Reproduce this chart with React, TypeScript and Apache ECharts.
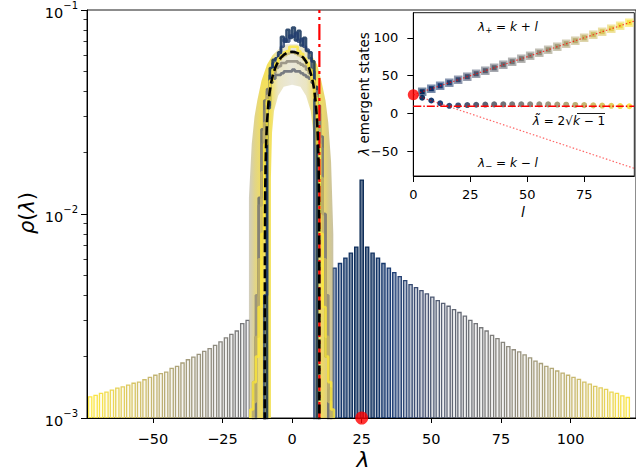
import { useEffect, useRef } from "react";
import * as echarts from "echarts";

// ---------------- data ----------------
const K_DEGREE = 25;
const LAMBDA_TILDE = 9.8; // 2*sqrt(k-1)

// outlier bins (right of the bulk): position and density
const RIGHT_BAR_X = [15.25, 17.2, 19.15, 21.1, 23.05, 25, 26.95, 28.9, 30.85, 32.8, 34.75, 36.7, 38.65, 40.6, 42.55, 44.5, 46.45, 48.4, 50.35, 52.3, 54.25, 56.2, 58.15, 60.1, 62.05, 64.0, 65.95, 67.9, 69.85, 71.8, 73.75, 75.7, 77.65, 79.6, 81.55, 83.5, 85.45, 87.4, 89.35, 91.3, 93.25, 95.2, 97.15, 99.1, 101.05, 103.0, 104.95, 106.9, 108.85, 110.8, 112.75, 114.7, 116.65, 118.6, 120.55];
const RIGHT_BAR_Y = [5.43e-3, 5.72e-3, 6.08e-3, 6.43e-3, 6.88e-3, 14.65e-3, 6.88e-3, 6.43e-3, 6.08e-3, 5.72e-3, 5.43e-3, 5.16e-3, 4.93e-3, 4.71e-3, 4.51e-3, 4.36e-3, 4.21e-3, 4.06e-3, 3.91e-3, 3.76e-3, 3.65e-3, 3.53e-3, 3.40e-3, 3.29e-3, 3.16e-3, 3.01e-3, 2.90e-3, 2.77e-3, 2.67e-3, 2.54e-3, 2.45e-3, 2.35e-3, 2.24e-3, 2.16e-3, 2.11e-3, 2.04e-3, 1.97e-3, 1.90e-3, 1.85e-3, 1.79e-3, 1.75e-3, 1.70e-3, 1.66e-3, 1.62e-3, 1.58e-3, 1.545e-3, 1.50e-3, 1.465e-3, 1.43e-3, 1.405e-3, 1.38e-3, 1.34e-3, 1.32e-3, 1.285e-3, 1.26e-3];
// outlier bins (left of the bulk)
const LEFT_BAR_X = [-72.5, -70.55, -68.6, -66.65, -64.7, -62.75, -60.8, -58.85, -56.9, -54.95, -53.0, -51.05, -49.1, -47.15, -45.2, -43.25, -41.3, -39.35, -37.4, -35.45, -33.5, -31.55, -29.6, -27.65, -25.7, -23.75, -21.8, -19.85, -17.9, -15.95];
const LEFT_BAR_Y = [1.27e-3, 1.29e-3, 1.32e-3, 1.34e-3, 1.37e-3, 1.40e-3, 1.42e-3, 1.45e-3, 1.48e-3, 1.50e-3, 1.54e-3, 1.58e-3, 1.62e-3, 1.65e-3, 1.68e-3, 1.75e-3, 1.79e-3, 1.86e-3, 1.93e-3, 1.99e-3, 2.05e-3, 2.12e-3, 2.19e-3, 2.27e-3, 2.36e-3, 2.47e-3, 2.57e-3, 2.67e-3, 2.90e-3, 3.01e-3];

// envelope of the many overlapping bulk histograms (outer edge, then inner edge)
const BAND_OUTER_X = [-15.5, -15.5, -14.5, -13.5, -12.5, -11, -9, -7, -4.5, -2, 2, 4.5, 7, 9, 10.5, 12, 13, 14, 14.8, 14.8];
const BAND_OUTER_Y = [1e-3, 1.2e-2, 2.2e-2, 3.0e-2, 3.6e-2, 4.5e-2, 5.4e-2, 6.0e-2, 6.5e-2, 6.8e-2, 6.8e-2, 6.5e-2, 6.0e-2, 5.4e-2, 4.5e-2, 3.6e-2, 2.8e-2, 1.8e-2, 8e-3, 1e-3];
const BAND_INNER_X = [8.4, 8.4, 7.6, 6.7, 5, 3, 0, -3, -5, -6.5, -7.2, -7.6, -7.6];
const BAND_INNER_Y = [1e-3, 1.5e-2, 2.5e-2, 3.2e-2, 3.8e-2, 4.2e-2, 4.3e-2, 4.2e-2, 3.8e-2, 3.2e-2, 2.5e-2, 1.5e-2, 1e-3];

// bulk histograms (step outlines), bins between consecutive edges
const BULK_EDGES = [-15, -14, -13, -12, -11, -10, -9, -8, -7, -6, -5, -4, -3, -2, -1, 0, 1, 2, 3, 4, 5, 6, 7, 8, 9, 10, 11, 12, 13, 14, 15];
const BULK_L_FRACTION = [0, 0.15, 0.35, 0.55, 0.8, 1.0];
const BULK_A = [0, 0, 0, 0, 0, 0, 0.034, 0.052, 0.057, 0.058, 0.062, 0.074, 0.070, 0.080, 0.073, 0.082, 0.071, 0.079, 0.067, 0.073, 0.063, 0.062, 0.056, 0.042, 0, 0, 0, 0, 0, 0];
const BULK_B = [0, 0, 0, 0, 0, 0.004, 0.033, 0.048, 0.055, 0.058, 0.060, 0.066, 0.072, 0.070, 0.075, 0.074, 0.077, 0.070, 0.072, 0.066, 0.064, 0.058, 0.050, 0, 0, 0, 0, 0, 0, 0];
const BULK_C = [0, 0, 0.0025, 0.012, 0.026, 0.036, 0.041, 0.044, 0.046, 0.048, 0.048, 0.049, 0.050, 0.050, 0.050, 0.051, 0.050, 0.050, 0.049, 0.048, 0.047, 0.046, 0.044, 0.040, 0.034, 0.024, 0.010, 0.002, 0, 0];
const BULK_D = [0, 0.0015, 0.004, 0.011, 0.022, 0.032, 0.040, 0.045, 0.049, 0.052, 0.053, 0.055, 0.055, 0.056, 0.056, 0.056, 0.056, 0.055, 0.054, 0.053, 0.051, 0.049, 0.045, 0.040, 0.031, 0.021, 0.010, 0.004, 0.0014, 0];
const BULK_E = [0, 0.0012, 0.0025, 0.006, 0.016, 0.028, 0.038, 0.045, 0.050, 0.054, 0.057, 0.059, 0.060, 0.061, 0.062, 0.062, 0.061, 0.060, 0.059, 0.057, 0.054, 0.050, 0.045, 0.038, 0.027, 0.015, 0.006, 0.0025, 0.0012, 0];
const BULK_F = [0.0011, 0.0015, 0.002, 0.0035, 0.008, 0.022, 0.036, 0.045, 0.051, 0.055, 0.058, 0.060, 0.062, 0.063, 0.066, 0.066, 0.066, 0.063, 0.061, 0.058, 0.055, 0.051, 0.045, 0.037, 0.022, 0.008, 0.0035, 0.002, 0.0015, 0.0011];
const BULK_HISTS = [BULK_A, BULK_B, BULK_C, BULK_D, BULK_E, BULK_F];

// Kesten-McKay density (dashed curve)
const KM_X = [-9.799, -9.79, -9.75, -9.65, -9.5, -9.3, -9, -8.5, -8, -7.5, -7, -6, -5, -4, -3, -2, -1, 0, 1, 2, 3, 4, 5, 6, 7, 7.5, 8, 8.5, 9, 9.3, 9.5, 9.65, 9.75, 9.79, 9.799];
const KM_Y = [0.0004, 0.00297, 0.00727, 0.01269, 0.01784, 0.02279, 0.02833, 0.03508, 0.04012, 0.04411, 0.04736, 0.05233, 0.05588, 0.05844, 0.06025, 0.06146, 0.06215, 0.06238, 0.06215, 0.06146, 0.06025, 0.05844, 0.05588, 0.05233, 0.04736, 0.04411, 0.04012, 0.03508, 0.02833, 0.02279, 0.01784, 0.01269, 0.00727, 0.00297, 0.0004];

// inset: emergent eigenvalues vs l
const INSET_L = [3.9, 7.9, 11.8, 15.8, 19.7, 23.7, 27.6, 31.6, 35.5, 39.5, 43.4, 47.4, 51.3, 55.3, 59.2, 63.2, 67.1, 71.1, 75.0, 79.0, 82.9, 86.9, 90.8, 94.8];
const LAMBDA_PLUS = [28.9, 32.9, 36.8, 40.8, 44.7, 48.7, 52.6, 56.6, 60.5, 64.5, 68.4, 72.4, 76.3, 80.3, 84.2, 88.2, 92.1, 96.1, 100.0, 104.0, 107.9, 111.9, 115.8, 119.8];
const LAMBDA_LOW = [21.0, 17.4, 13.8, 10.4, 10.9, 11.4, 11.8, 12.1, 12.3, 12.4, 12.5, 12.5, 12.5, 12.4, 12.3, 12.1, 11.9, 11.6, 11.3, 11.0, 10.7, 10.4, 10.1, 9.8];
const THEORY_L = [0, 97];
const THEORY_PLUS = [25, 122];
const THEORY_MINUS = [25, -72];
const L_MAX = 97;

// ticks
const MAIN_X_TICKS = [-50, -25, 0, 25, 50, 75, 100];
const MAIN_Y_TICKS = [1e-3, 1e-2, 1e-1];
const MAIN_Y_MINOR = [2e-3, 3e-3, 4e-3, 5e-3, 6e-3, 7e-3, 8e-3, 9e-3, 2e-2, 3e-2, 4e-2, 5e-2, 6e-2, 7e-2, 8e-2, 9e-2];
const INSET_X_TICKS = [0, 25, 50, 75];
const INSET_Y_TICKS = [-50, 0, 50, 100];

// ---------------- styling helpers ----------------
const FONT = "DejaVu Sans";
const CIVIDIS = ["#00224e", "#123570", "#3b496c", "#575d6d", "#707173", "#8a8678", "#a59c74", "#c3b369", "#e1cc55", "#fee838"];
function hexRgb(h: string) {
  return [parseInt(h.slice(1, 3), 16), parseInt(h.slice(3, 5), 16), parseInt(h.slice(5, 7), 16)];
}
function cividis(t: number, a = 1) {
  const tt = Math.max(0, Math.min(1, t));
  const p = tt * 9;
  const i = Math.min(8, Math.floor(p));
  const f = p - i;
  const c0 = hexRgb(CIVIDIS[i]);
  const c1 = hexRgb(CIVIDIS[i + 1]);
  const c = c0.map((v, k) => Math.round(v + (c1[k] - v) * f));
  return `rgba(${c[0]},${c[1]},${c[2]},${a})`;
}
const minus = (v: number) => (v < 0 ? "\u2212" + Math.abs(v) : String(v));
const BAR_HALF = 0.58;

function stepSeries(vals: number[], t: number) {
  const pts: number[][] = [[BULK_EDGES[0], 1e-4]];
  vals.forEach((v, i) => {
    const y = v > 0 ? v : 1e-4;
    pts.push([BULK_EDGES[i], y]);
    pts.push([BULK_EDGES[i + 1], y]);
  });
  pts.push([BULK_EDGES[BULK_EDGES.length - 1], 1e-4]);
  return {
    type: "line",
    xAxisIndex: 0,
    yAxisIndex: 0,
    data: pts,
    symbol: "none",
    clip: true,
    silent: true,
    lineStyle: { color: cividis(t), width: 2.6, opacity: 0.8 },
    z: 2,
  };
}

function buildOption(): any {
  const barData = [
    ...RIGHT_BAR_X.map((x, i) => [x, RIGHT_BAR_Y[i], Math.abs(x - K_DEGREE) / L_MAX]),
    ...LEFT_BAR_X.map((x, i) => [x, LEFT_BAR_Y[i], (K_DEGREE - x) / L_MAX]),
  ];

  const bandPts = [
    ...BAND_OUTER_X.map((x, i) => [x, BAND_OUTER_Y[i]]),
    ...BAND_INNER_X.map((x, i) => [x, BAND_INNER_Y[i]]),
  ];

  const blueSeries = BULK_HISTS.slice(0, 2).map((v, h) => stepSeries(v, BULK_L_FRACTION[h]));
  const otherSeries = BULK_HISTS.slice(2).map((v, h) => stepSeries(v, BULK_L_FRACTION[h + 2]));

  const txt = (x: number, y: number, text: string, rich: any, extra: any = {}) => ({
    type: "text",
    x,
    y,
    z: 20,
    style: { text, rich, align: "center", verticalAlign: "middle", textAlign: "center", textVerticalAlign: "middle", fontFamily: FONT, fill: "#000" },
    ...extra,
  });
  const eqRich = {
    i: { fontFamily: FONT, fontSize: 12, fontStyle: "italic", color: "#000", lineHeight: 14 },
    n: { fontFamily: FONT, fontSize: 12, color: "#000", lineHeight: 14 },
    s: { fontFamily: FONT, fontSize: 8.5, color: "#000", lineHeight: 8, verticalAlign: "bottom" },
  };

  return {
    animation: false,
    backgroundColor: "#fff",
    grid: [
      { left: 87, top: 8, width: 553, height: 410, show: true, borderColor: "#1a1a1a", borderWidth: 1, backgroundColor: "transparent", z: 0 },
      { left: 413.3, top: 12.7, width: 221, height: 163.3, show: true, borderColor: "#1a1a1a", borderWidth: 1, backgroundColor: "#fff", z: 5 },
    ],
    xAxis: [
      {
        gridIndex: 0, type: "value", min: -73.65, max: 123.5, z: 6,
        axisLine: { show: true, onZero: false, lineStyle: { color: "#000", width: 1 } },
        axisTick: { show: true, length: 5, customValues: MAIN_X_TICKS, lineStyle: { color: "#000" } },
        axisLabel: { customValues: MAIN_X_TICKS, formatter: (v: number) => minus(v), fontFamily: FONT, fontSize: 14.5, color: "#000", margin: 13 },
        splitLine: { show: false },
      },
      {
        gridIndex: 1, type: "value", min: 0, max: L_MAX, z: 8,
        axisLine: { show: true, onZero: false, lineStyle: { color: "#000", width: 1 } },
        axisTick: { show: true, length: 6, customValues: INSET_X_TICKS, lineStyle: { color: "#000" } },
        axisLabel: { customValues: INSET_X_TICKS, formatter: (v: number) => minus(v), fontFamily: FONT, fontSize: 13, color: "#000", margin: 12 },
        splitLine: { show: false },
      },
    ],
    yAxis: [
      {
        gridIndex: 0, type: "log", logBase: 10, min: 1e-3, max: 1e-1, position: "left", z: 6,
        axisLine: { show: true, onZero: false, lineStyle: { color: "#000", width: 1 } },
        axisTick: { show: true, length: 6, customValues: MAIN_Y_TICKS, lineStyle: { color: "#000" } },
        axisLabel: {
          customValues: MAIN_Y_TICKS,
          formatter: (v: number) => `{b|10}{s|\u2212${Math.round(-Math.log10(v))}}`,
          margin: 9,
          rich: {
            b: { fontFamily: FONT, fontSize: 14.5, color: "#000", lineHeight: 20, verticalAlign: "bottom" },
            s: { fontFamily: FONT, fontSize: 10, color: "#000", lineHeight: 10, verticalAlign: "top" },
          },
        },
        splitLine: { show: false },
      },
      {
        gridIndex: 0, type: "log", logBase: 10, min: 1e-3, max: 1e-1, position: "left", z: 6,
        axisLine: { show: false, onZero: false },
        axisTick: { show: true, length: 3.5, customValues: MAIN_Y_MINOR, lineStyle: { color: "#000", width: 0.8 } },
        axisLabel: { show: false },
        splitLine: { show: false },
      },
      {
        gridIndex: 1, type: "value", min: -82, max: 133, position: "left", z: 8,
        axisLine: { show: true, onZero: false, lineStyle: { color: "#000", width: 1 } },
        axisTick: { show: true, length: 6, customValues: INSET_Y_TICKS, lineStyle: { color: "#000" } },
        axisLabel: { customValues: INSET_Y_TICKS, formatter: (v: number) => minus(v), fontFamily: FONT, fontSize: 13, color: "#000", margin: 15 },
        splitLine: { show: false },
      },
    ],
    series: [
      {
        type: "custom",
        xAxisIndex: 0,
        yAxisIndex: 0,
        data: barData,
        clip: true,
        silent: true,
        z: 2,
        encode: { x: 0, y: 1 },
        renderItem: (_p: any, api: any) => {
          const x = api.value(0);
          const y = api.value(1);
          const t = api.value(2);
          const a = api.coord([x - BAR_HALF, y]);
          const b = api.coord([x + BAR_HALF, 1e-3]);
          const fa = Math.max(0.1, Math.min(0.6, 0.65 - 1.8 * t));
          return {
            type: "rect",
            shape: { x: a[0], y: a[1], width: b[0] - a[0], height: b[1] - a[1] },
            style: { fill: cividis(t, fa), stroke: cividis(t, 0.95), lineWidth: 1.3 },
          };
        },
      },
      ...blueSeries,
      {
        type: "custom",
        xAxisIndex: 0,
        yAxisIndex: 0,
        data: [[0, 0.01]],
        silent: true,
        z: 2,
        encode: { x: 0, y: 1 },
        renderItem: (_p: any, api: any) => {
          const points = bandPts.map((p) => api.coord(p));
          return {
            type: "polygon",
            shape: { points },
            style: {
              fill: new echarts.graphic.LinearGradient(0, 0, 1, 0, [
                { offset: 0, color: "rgba(185,180,158,0.65)" },
                { offset: 0.07, color: "rgba(218,203,112,0.82)" },
                { offset: 0.15, color: "rgba(240,218,72,0.88)" },
                { offset: 0.26, color: "rgba(242,222,72,0.88)" },
                { offset: 0.35, color: "rgba(218,208,145,0.55)" },
                { offset: 0.51, color: "rgba(208,203,170,0.45)" },
                { offset: 0.68, color: "rgba(218,208,145,0.55)" },
                { offset: 0.78, color: "rgba(242,222,72,0.88)" },
                { offset: 0.88, color: "rgba(232,210,80,0.85)" },
                { offset: 1, color: "rgba(180,170,128,0.72)" },
              ]),
            },
          };
        },
      },
      ...otherSeries,
      {
        type: "line", xAxisIndex: 0, yAxisIndex: 0, symbol: "none", silent: true, z: 3,
        data: [[LAMBDA_TILDE, 1e-3], [LAMBDA_TILDE, 1e-1]],
        lineStyle: { color: "#ff0000", width: 2.2, type: [16, 4, 3, 4] },
      },
      {
        type: "line", xAxisIndex: 0, yAxisIndex: 0, symbol: "none", silent: true, z: 4, clip: true,
        data: KM_X.map((x, i) => [x, KM_Y[i]]),
        lineStyle: { color: "#000", width: 2.6, type: [9, 4] },
      },
      {
        type: "scatter", xAxisIndex: 0, yAxisIndex: 0, clip: false, silent: true, z: 7,
        data: [[K_DEGREE, 1e-3]], symbol: "circle", symbolSize: 13,
        itemStyle: { color: "#ff0000" },
      },
      // inset
      {
        type: "scatter", xAxisIndex: 1, yAxisIndex: 2, silent: true, z: 10, symbol: "rect", symbolSize: 8.5,
        data: INSET_L.map((l, i) => ({ value: [l, LAMBDA_PLUS[i]], itemStyle: { color: cividis(l / L_MAX), opacity: 0.55 } })),
      },
      {
        type: "scatter", xAxisIndex: 1, yAxisIndex: 2, silent: true, z: 10, symbol: "rect", symbolSize: 5,
        data: INSET_L.map((l, i) => ({ value: [l, LAMBDA_PLUS[i]], itemStyle: { color: cividis(l / L_MAX), opacity: 1 } })),
      },
      {
        type: "scatter", xAxisIndex: 1, yAxisIndex: 2, silent: true, z: 10, symbol: "circle", symbolSize: 6,
        data: INSET_L.map((l, i) => ({ value: [l, LAMBDA_LOW[i]], itemStyle: { color: cividis(l / L_MAX), opacity: 0.95 } })),
      },
      {
        type: "line", xAxisIndex: 1, yAxisIndex: 2, symbol: "none", silent: true, z: 11,
        data: THEORY_L.map((l, i) => [l, THEORY_PLUS[i]]),
        lineStyle: { color: "#ff0000", width: 1.2, opacity: 0.75, type: [1.5, 2] },
      },
      {
        type: "line", xAxisIndex: 1, yAxisIndex: 2, symbol: "none", silent: true, z: 11,
        data: THEORY_L.map((l, i) => [l, THEORY_MINUS[i]]),
        lineStyle: { color: "#ff0000", width: 1.2, opacity: 0.6, type: [1.5, 2] },
      },
      {
        type: "line", xAxisIndex: 1, yAxisIndex: 2, symbol: "none", silent: true, z: 11,
        data: THEORY_L.map((l) => [l, LAMBDA_TILDE]),
        lineStyle: { color: "#ff0000", width: 1.3, type: [8, 2, 1.5, 2] },
      },
      {
        type: "scatter", xAxisIndex: 1, yAxisIndex: 2, clip: false, silent: true, z: 12,
        data: [[0, K_DEGREE]], symbol: "circle", symbolSize: 11,
        itemStyle: { color: "#ff0000" },
      },
    ],
    graphic: {
      elements: [
        txt(27, 213, "{i|\u03c1}{n|(}{i|\u03bb}{n|)}", {
          i: { fontFamily: FONT, fontSize: 21, fontStyle: "italic", color: "#000" },
          n: { fontFamily: FONT, fontSize: 21, color: "#000" },
        }, { rotation: Math.PI / 2 }),
        txt(363, 459, "{i|\u03bb}", { i: { fontFamily: FONT, fontSize: 22, fontStyle: "italic", color: "#000" } }),
        txt(364, 94, "{i|\u03bb}{n| emergent states}", {
          i: { fontFamily: FONT, fontSize: 13.5, fontStyle: "italic", color: "#000" },
          n: { fontFamily: FONT, fontSize: 13.5, color: "#000" },
        }, { rotation: Math.PI / 2 }),
        txt(523, 212, "{i|l}", { i: { fontFamily: FONT, fontSize: 14, fontStyle: "italic", color: "#000" } }),
        txt(508, 27, "{i|\u03bb}{s|+}{n| = }{i|k}{n| + }{i|l}", eqRich),
        txt(508, 163, "{i|\u03bb}{s|\u2212}{n| = }{i|k}{n| \u2212 }{i|l}", eqRich),
        txt(569, 121, "{i|\u03bb\u0303}{n| = 2\u221a}{i|k}{n| \u2212 1}", eqRich),
        { type: "line", z: 20, shape: { x1: 577, y1: 113.5, x2: 605, y2: 113.5 }, style: { stroke: "#000", lineWidth: 0.9 } },
      ],
    },
  };
}

export default function App() {
  const ref = useRef<HTMLDivElement>(null);
  useEffect(() => {
    document.body.style.margin = "0";
    document.body.style.overflow = "hidden";
    const chart = echarts.init(ref.current as HTMLDivElement, null, { renderer: "svg" });
    chart.setOption(buildOption());
    return () => chart.dispose();
  }, []);
  return <div ref={ref} style={{ position: "fixed", left: 0, top: 0, width: 636, height: 471, background: "#fff" }} />;
}
